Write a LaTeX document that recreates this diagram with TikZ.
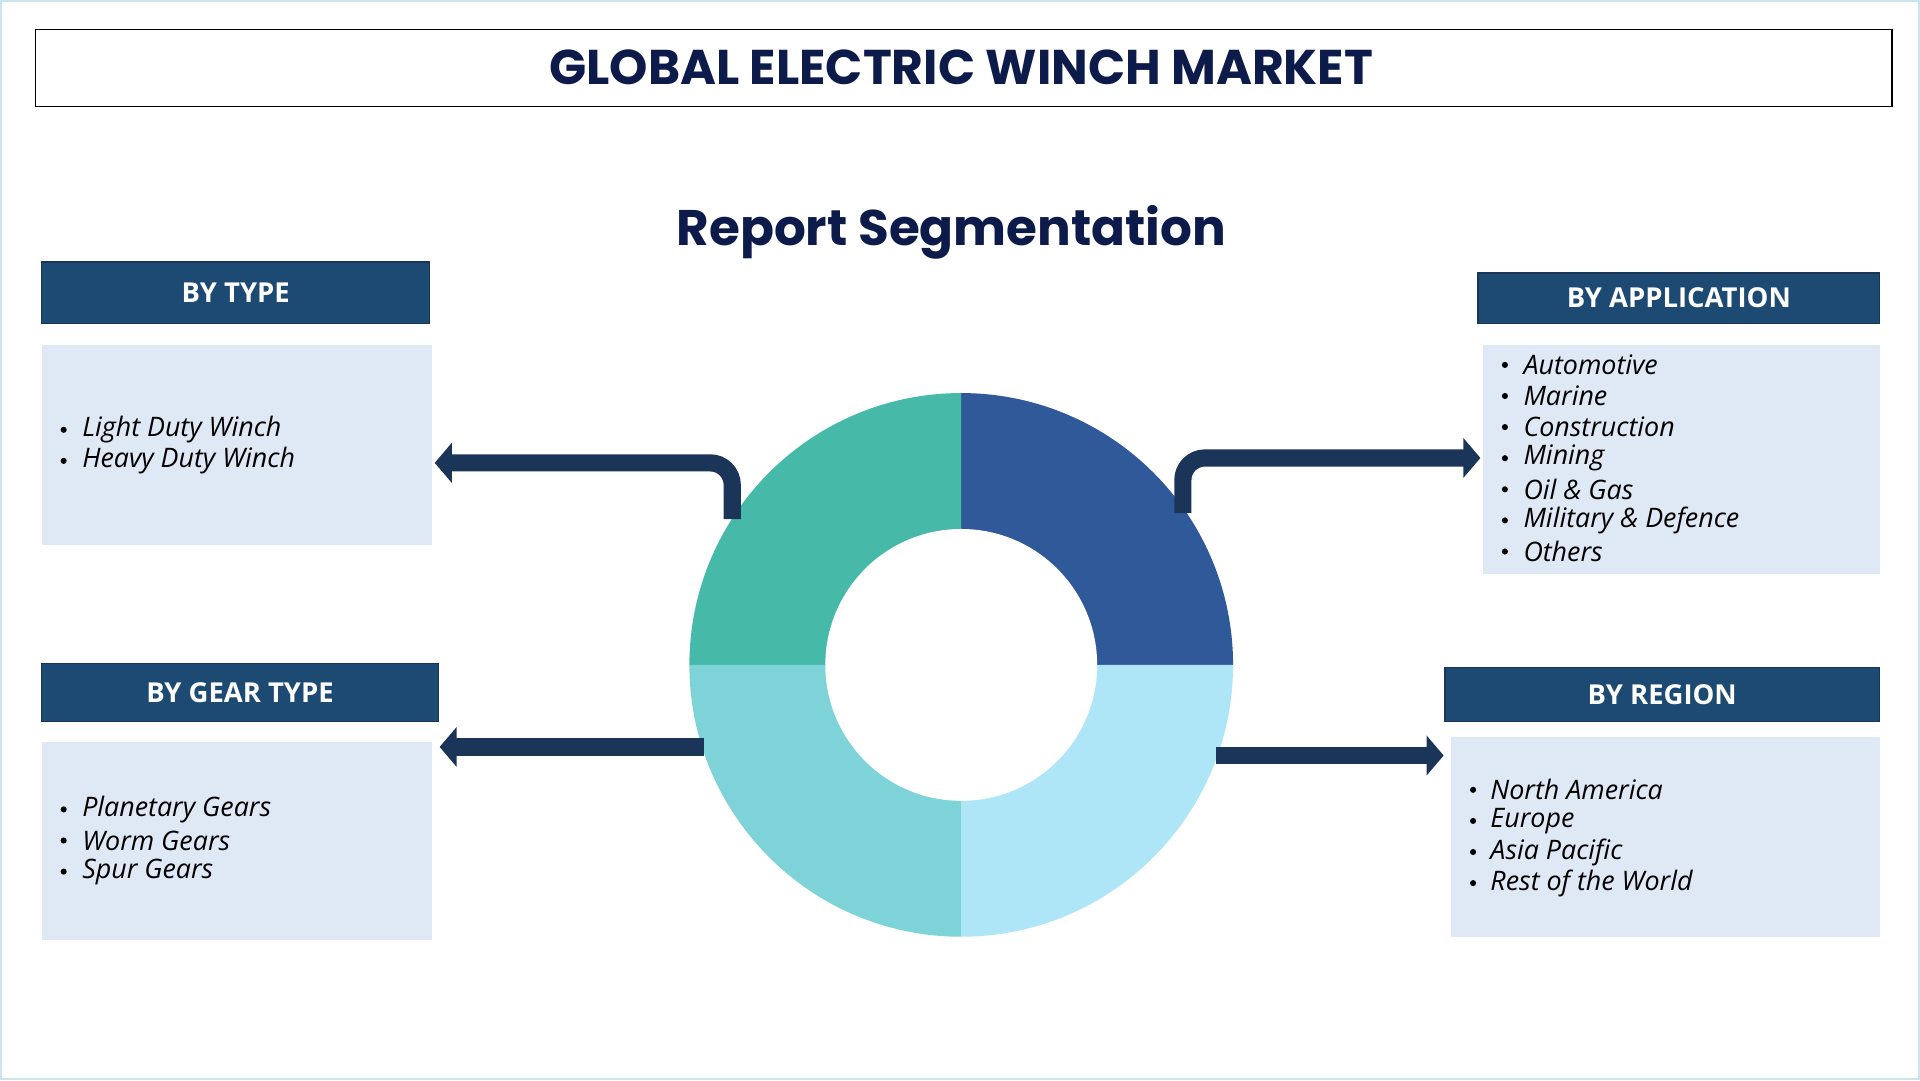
\documentclass[tikz,border=0pt]{standalone}
\usepackage{fontspec}
\setmainfont{Open Sans}
\newfontfamily\popb{Poppins}[UprightFont=* Bold]
\usetikzlibrary{arrows.meta}
\definecolor{navy}{HTML}{0D1B4B}
\definecolor{hdr}{HTML}{1D4A72}
\definecolor{lite}{HTML}{DFE9F5}
\definecolor{arr}{HTML}{1B3558}
\definecolor{qa}{HTML}{30599A}
\definecolor{qb}{HTML}{47B9A8}
\definecolor{qc}{HTML}{7DD3D8}
\definecolor{qd}{HTML}{AEE6F8}
\tikzset{
 hbox/.style={draw=arr,line width=1bp,fill=hdr,text=white,font=\fontsize{22.5}{26}\selectfont\bfseries,inner sep=0},
 cbox/.style={fill=lite,inner sep=0},
 item/.style={anchor=west,font=\fontsize{22}{26}\selectfont\itshape,text=black,inner sep=0},
 bul/.style={circle,fill=black,inner sep=0,minimum size=5bp},
 conn/.style={draw=arr,line width=14bp,rounded corners=18bp,-{Triangle[length=14bp,width=32bp]}}
}
\begin{document}
\begin{tikzpicture}[x=1bp,y=-1bp]
\useasboundingbox (0,0) rectangle (1568,882);
\draw[draw=lightgray!60!cyan!40,line width=2bp] (1,1) rectangle (1567,881);
\node[draw=black,line width=1.2bp,fill=white,minimum width=1516bp,minimum height=63bp,inner sep=0] (title) at (787,55.5) {};
\node[text=navy,font=\popb\fontsize{40}{44}\selectfont] (tt) at (785,55) {GLOBAL ELECTRIC WINCH MARKET};
\node[text=navy,font=\popb\fontsize{41}{45}\selectfont] (rs) at (777,190) {Report Segmentation};
% headers
\node[hbox,minimum width=317bp,minimum height=50bp] (h1) at (192.5,239) {BY TYPE};
\node[hbox,minimum width=324bp,minimum height=47bp] (h2) at (196,565.5) {BY GEAR TYPE};
\node[hbox,minimum width=328bp,minimum height=41bp] (h3) at (1371,243.5) {BY APPLICATION};
\node[hbox,minimum width=355bp,minimum height=44bp] (h4) at (1357.5,567) {BY REGION};
% content boxes
\node[cbox,minimum width=319bp,minimum height=163bp] (c1) at (193.5,363.5) {};
\node[cbox,minimum width=319bp,minimum height=162bp] (c2) at (193.5,687) {};
\node[cbox,minimum width=324bp,minimum height=187bp] (c3) at (1373,375.5) {};
\node[cbox,minimum width=350bp,minimum height=163bp] (c4) at (1360,683.5) {};
% items
\foreach \t [count=\i] in {Light Duty Winch,Heavy Duty Winch}{
 \node[bul] (b1\i) at (52,351+25.4*\i-25.4) {};
 \node[item] (i1\i) at (67,351+25.4*\i-25.4) {\t};}
\foreach \t [count=\i] in {Planetary Gears,Worm Gears,Spur Gears}{
 \node[bul] (b2\i) at (52,661+25.4*\i-25.4) {};
 \node[item] (i2\i) at (67,661+25.4*\i-25.4) {\t};}
\foreach \t [count=\i] in {Automotive,Marine,Construction,Mining,Oil \& Gas,Military \& Defence,Others}{
 \node[bul] (b3\i) at (1229,298+25.4*\i-25.4) {};
 \node[item] (i3\i) at (1244,298+25.4*\i-25.4) {\t};}
\foreach \t [count=\i] in {North America,Europe,Asia Pacific,Rest of the World}{
 \node[bul] (b4\i) at (1203,645+25.4*\i-25.4) {};
 \node[item] (i4\i) at (1217,645+25.4*\i-25.4) {\t};}
% donut
\coordinate (O) at (785,543);
\fill[qa] (O) -- ++(0,-222) arc[start angle=270,end angle=360,radius=222] -- cycle;
\fill[qb] (O) -- ++(-222,0) arc[start angle=180,end angle=270,radius=222] -- cycle;
\fill[qc] (O) -- ++(-222,0) arc[start angle=180,end angle=90,radius=222] -- cycle;
\fill[qd] (O) -- ++(0,222) arc[start angle=90,end angle=0,radius=222] -- cycle;
\fill[white] (O) circle[radius=111];
% arrows
\coordinate (s1) at (598,424); \coordinate (e1) at (355,378);
\coordinate (s3) at (966,419); \coordinate (e3) at (1209,374);
\coordinate (s2) at (575,610); \coordinate (e2) at (359,610);
\coordinate (s4) at (993,617); \coordinate (e4) at (1179,617);
\draw[conn] (s1) |- (e1);
\draw[conn] (s3) |- (e3);
\draw[conn] (s2) -- (e2);
\draw[conn] (s4) -- (e4);
\end{tikzpicture}
\end{document}
